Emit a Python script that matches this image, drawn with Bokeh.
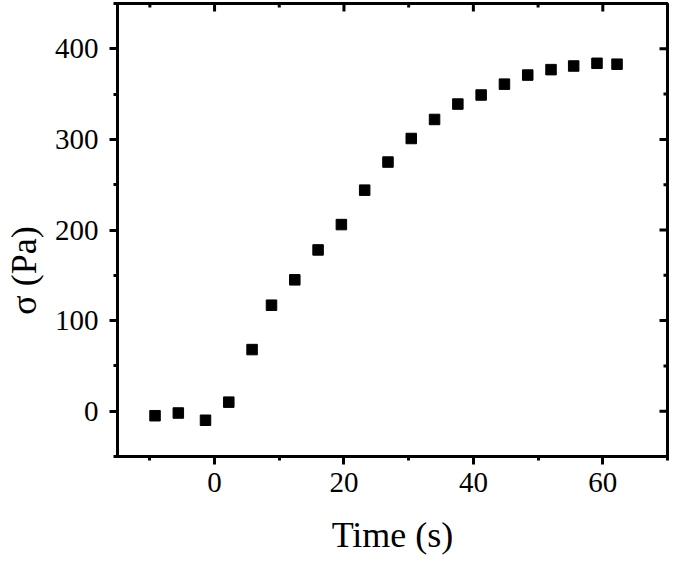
import math
from bokeh.plotting import figure
from bokeh.models import LinearAxis, SingleIntervalTicker, Range1d, ColumnDataSource
from bokeh.embed import file_html
from bokeh.resources import INLINE

time_s = [-9.2, -5.6, -1.4, 2.2, 5.8, 8.8, 12.4, 16.0, 19.6, 23.2, 26.8,
          30.4, 34.0, 37.6, 41.2, 44.8, 48.4, 52.0, 55.5, 59.1, 62.2]
sigma_pa = [-5, -2, -10, 10, 68, 117, 145, 178, 206, 244, 275,
            301, 322, 339, 349, 361, 371, 377, 381, 384, 383]

x_major = [0, 20, 40, 60]
x_minor = [-10, 10, 30, 50, 70]
y_major = [0, 100, 200, 300, 400]
y_minor = [-50, 50, 150, 250, 350, 450]

X_MIN, X_MAX = -15, 70
Y_MIN, Y_MAX = -50, 450

FONT = "Liberation Serif"

p = figure(width=669, height=557, output_backend="svg", toolbar_location=None,
           x_range=Range1d(X_MIN, X_MAX), y_range=Range1d(Y_MIN, Y_MAX),
           x_axis_location=None, y_axis_location=None,
           min_border_left=112, min_border_bottom=98, min_border_top=3, min_border_right=2)
p.grid.visible = False
p.outline_line_color = "black"
p.outline_line_width = 3
p.background_fill_color = "white"
p.border_fill_color = "white"

src = ColumnDataSource(dict(t=time_s, s=sigma_pa))
p.scatter("t", "s", source=src, marker="square", size=10.5, color="black")

# mirrored inward ticks on the top and right frame edges
p.scatter(x_major, [Y_MAX] * len(x_major), marker="dash", size=16, angle=math.pi / 2,
          line_color="black", line_width=3)
p.scatter(x_minor, [Y_MAX] * len(x_minor), marker="dash", size=8, angle=math.pi / 2,
          line_color="black", line_width=3)
p.scatter([X_MAX] * len(y_major), y_major, marker="dash", size=16,
          line_color="black", line_width=3)
p.scatter([X_MAX] * len(y_minor), y_minor, marker="dash", size=8,
          line_color="black", line_width=3)

def style(ax):
    ax.axis_line_width = 3
    ax.axis_line_color = "black"
    ax.major_tick_line_width = 3
    ax.minor_tick_line_width = 3
    ax.major_tick_line_color = "black"
    ax.minor_tick_line_color = "black"
    ax.major_tick_out = 8
    ax.major_tick_in = 0
    ax.minor_tick_out = 4
    ax.minor_tick_in = 0
    ax.major_label_text_font = FONT
    ax.major_label_text_font_size = "29px"
    ax.major_label_text_color = "black"
    ax.axis_label_text_font = FONT
    ax.axis_label_text_font_style = "normal"
    ax.axis_label_text_font_size = "36px"
    ax.axis_label_text_color = "black"

xb = LinearAxis(ticker=SingleIntervalTicker(interval=20, num_minor_ticks=2), axis_label="Time (s)")
style(xb)
xb.major_label_standoff = 8
xb.axis_label_standoff = 20
p.add_layout(xb, "below")

# trailing no-break spaces shift the centred title down, as in the original
yl = LinearAxis(ticker=SingleIntervalTicker(interval=100, num_minor_ticks=2),
                axis_label="σ (Pa)" + "\u00a0" * 9)
style(yl)
yl.major_label_standoff = 11
yl.axis_label_standoff = 8
p.add_layout(yl, "left")

open("out.html", "w").write(file_html(p, INLINE))
